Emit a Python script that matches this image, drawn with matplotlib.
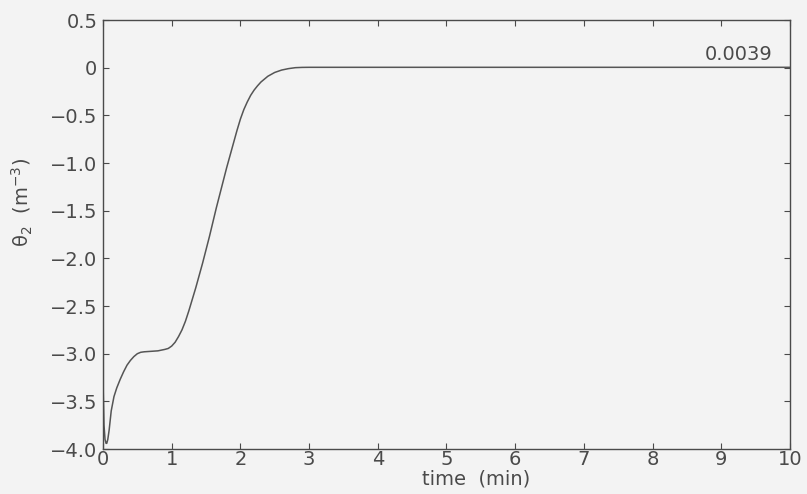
import matplotlib
matplotlib.use("Agg")
import matplotlib.pyplot as plt

plt.rcParams["font.family"] = ["DejaVu Sans"]
plt.rcParams["mathtext.default"] = "regular"

# theta_2 response
time_min = [0, 0.005, 0.015, 0.03, 0.045, 0.055, 0.07, 0.09, 0.12, 0.16,
            0.2, 0.25, 0.3, 0.35, 0.4, 0.45, 0.5, 0.55, 0.6, 0.7,
            0.8, 0.9, 0.95, 1.0, 1.05, 1.1, 1.15, 1.2, 1.25, 1.3,
            1.35, 1.4, 1.45, 1.5, 1.55, 1.6, 1.65, 1.7, 1.75, 1.8,
            1.85, 1.9, 1.95, 2.0, 2.05, 2.1, 2.15, 2.2, 2.25, 2.3,
            2.4, 2.5, 2.6, 2.7, 2.8, 2.9, 3.0, 3.5, 4, 5,
            6, 7, 8, 9, 10]
theta2 = [0, -3.4, -3.75, -3.9, -3.94, -3.94, -3.9, -3.8, -3.6, -3.45,
          -3.36, -3.27, -3.19, -3.12, -3.07, -3.03, -3.0, -2.985, -2.98, -2.975,
          -2.97, -2.955, -2.945, -2.92, -2.88, -2.82, -2.75, -2.66, -2.55, -2.43,
          -2.31, -2.18, -2.05, -1.91, -1.77, -1.62, -1.47, -1.33, -1.19, -1.05,
          -0.92, -0.79, -0.66, -0.54, -0.44, -0.36, -0.29, -0.235, -0.19, -0.15,
          -0.09, -0.05, -0.025, -0.01, 0.0, 0.003, 0.0039, 0.0039, 0.0039, 0.0039,
          0.0039, 0.0039, 0.0039, 0.0039, 0.0039]

final_label = "0.0039"
xticks = list(range(0, 11))
yticks = [0.5, 0, -0.5, -1.0, -1.5, -2.0, -2.5, -3.0, -3.5, -4.0]
ytick_labels = ["0.5", "0", "\u22120.5", "\u22121.0", "\u22121.5", "\u22122.0",
                "\u22122.5", "\u22123.0", "\u22123.5", "\u22124.0"]

bg = "#f3f3f3"
ink = "#4a4a4a"

fig = plt.figure(figsize=(8.07, 4.94), dpi=100, facecolor=bg)
ax = fig.add_axes([0.1276, 0.091, 0.8513, 0.8685], facecolor=bg)

ax.plot(time_min, theta2, color="#555555", lw=1.1)
ax.set_xlim(0, 10)
ax.set_ylim(-4.0, 0.5)

ax.set_xticks(xticks)
ax.set_yticks(yticks)
ax.set_yticklabels(ytick_labels)
ax.tick_params(direction="in", top=True, right=True, length=4, width=0.8,
               colors=ink, labelsize=14)
ax.tick_params(axis="x", pad=1)
ax.tick_params(axis="y", pad=4)
for s in ax.spines.values():
    s.set_color(ink)
    s.set_linewidth(1.0)

ax.text(9.75, 0.04, final_label, ha="right", va="bottom", fontsize=14, color=ink)

fig.text(476 / 807, 1 - 479 / 494, "time  (min)", ha="center", va="center",
         fontsize=14, color=ink)
fig.text(22 / 807, 1 - 202 / 494, "\u03b8$_2$  (m$^{-3}$)", ha="center", va="center",
         rotation=90, fontsize=14, color=ink)

fig.savefig("out.png", dpi=100, facecolor=bg)
